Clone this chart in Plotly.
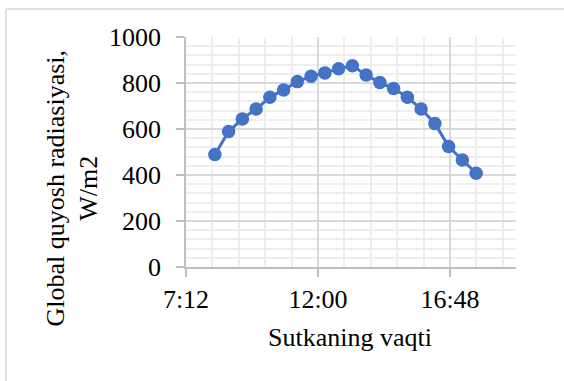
import plotly.graph_objects as go

# --- data ---
times = ["8:15", "8:45", "9:15", "9:45", "10:15", "10:45", "11:15", "11:45", "12:15", "12:45",
         "13:15", "13:45", "14:15", "14:45", "15:15", "15:45", "16:15", "16:45", "17:15", "17:45"]
radiation = [489, 589, 644, 687, 738, 770, 806, 829, 844, 862,
             875, 835, 802, 776, 738, 687, 624, 524, 465, 408]
x_tick_vals = [0.3, 0.5, 0.7]
x_tick_text = ["7:12", "12:00", "16:48"]
y_title = "Global quyosh radiasiyasi,<br>W/m2"
x_title = "Sutkaning vaqti"


def to_day_fraction(t):
    h, m = t.split(":")
    return (int(h) + int(m) / 60) / 24


xs = [to_day_fraction(t) for t in times]

W, H = 564, 381
ml, mr, mt, mb = 186, 48, 37, 114
pw, ph = W - ml - mr, H - mt - mb

FONT = "Liberation Serif"
FS = 26
fig = go.Figure()
fig.add_trace(go.Scatter(
    x=xs, y=radiation, mode="lines+markers",
    line=dict(color="#4472C4", width=3),
    marker=dict(color="#4472C4", size=13.5),
    showlegend=False, cliponaxis=False,
))

fig.update_layout(
    width=W, height=H,
    margin=dict(l=ml, r=mr, t=mt, b=mb),
    paper_bgcolor="white", plot_bgcolor="white",
    font=dict(family=FONT, size=FS, color="black"),
    xaxis=dict(
        range=[0.3, 0.8], tickmode="array", tickvals=x_tick_vals, ticktext=x_tick_text,
        showgrid=True, gridcolor="#d9d9d9", gridwidth=1.5,
        minor=dict(tick0=0.3, dtick=0.04, showgrid=True, gridcolor="#eeeeee", gridwidth=1.5),
        showline=True, linecolor="#bfbfbf", linewidth=2,
        ticks="outside", ticklen=8, tickcolor="#bfbfbf", tickwidth=1.5,
        zeroline=False, tickfont=dict(family=FONT, size=FS),
    ),
    yaxis=dict(
        range=[0, 1000], dtick=200, tick0=0,
        showgrid=True, gridcolor="#d9d9d9", gridwidth=1.5,
        minor=dict(dtick=40, showgrid=True, gridcolor="#eeeeee", gridwidth=1.5),
        showline=True, linecolor="#bfbfbf", linewidth=1.5,
        ticks="outside", ticklen=8, tickcolor="#bfbfbf", tickwidth=1.5,
        zeroline=False, ticklabelstandoff=10, tickfont=dict(family=FONT, size=FS),
    ),
)

# axis titles as annotations
fig.add_annotation(
    text=x_title, xref="paper", yref="paper",
    x=(350 - ml) / pw, y=1 - (337 - mt) / ph,
    xanchor="center", yanchor="middle", showarrow=False,
    font=dict(family=FONT, size=FS),
)
fig.add_annotation(
    text=y_title, xref="paper", yref="paper",
    x=(71.5 - ml) / pw, y=1 - (188 - mt) / ph,
    xanchor="center", yanchor="middle", showarrow=False, textangle=-90,
    font=dict(family=FONT, size=FS),
)

# chart-area border (left and top edges visible)
bx0 = (6 - ml) / pw
by1 = 1 + (mt - 9) / ph
fig.add_shape(type="line", xref="paper", yref="paper", x0=bx0, x1=bx0, y0=by1, y1=-1,
              line=dict(color="#d9d9d9", width=1.5))
fig.add_shape(type="line", xref="paper", yref="paper", x0=bx0, x1=(W + 20 - ml) / pw, y0=by1, y1=by1,
              line=dict(color="#d9d9d9", width=1.5))

fig.write_html("out.html")
